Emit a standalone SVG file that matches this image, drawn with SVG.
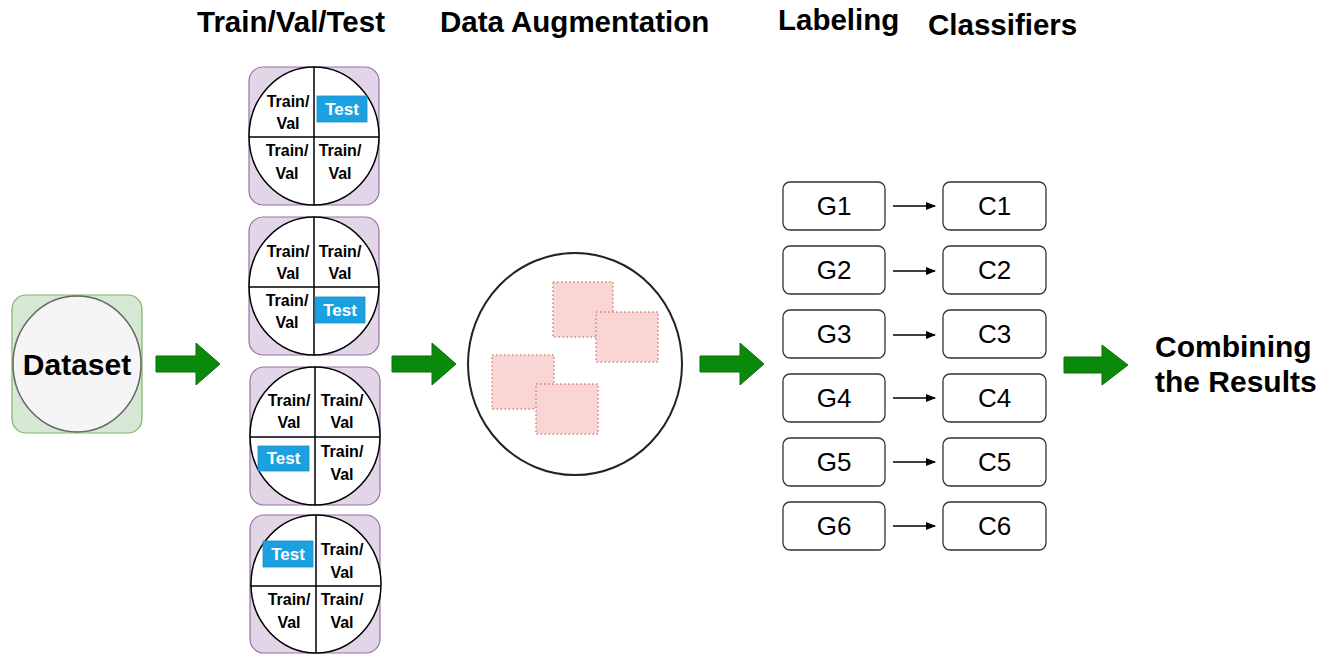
<svg xmlns="http://www.w3.org/2000/svg" width="1332" height="656" viewBox="0 0 1332 656">
<defs>
<style>
.hdr{font-family:"Liberation Sans",Arial,sans-serif;font-weight:bold;font-size:29.500px;fill:#000}
.big{font-family:"Liberation Sans",Arial,sans-serif;font-weight:bold;font-size:30px;fill:#000}
.q{font-family:"Liberation Sans",Arial,sans-serif;font-weight:bold;font-size:16px;fill:#000;text-anchor:middle}
.tst{font-family:"Liberation Sans",Arial,sans-serif;font-weight:bold;font-size:17px;fill:#fff;text-anchor:middle}
.lbl{font-family:"Liberation Sans",Arial,sans-serif;font-size:26px;fill:#000;text-anchor:middle}
.pbox{fill:#e1d5e7;stroke:#9673a6;stroke-width:1.2}
.qc{fill:#fff;stroke:#000;stroke-width:1.5}
.ql{stroke:#000;stroke-width:1.5}
.tb{fill:#1ba1e2;stroke:#1c8cc4;stroke-width:0.8}
.garr{fill:#0a8a0a;stroke:#0b6e0b;stroke-width:1}
.sq{fill:#f9d6d3;stroke:#d6827d;stroke-width:1.5;stroke-dasharray:1.5 2.5}
.rb{fill:#fff;stroke:#333;stroke-width:1.3}
.con{stroke:#000;stroke-width:1.3;fill:none}
</style>
<marker id="ah" viewBox="0 0 10 10" refX="9" refY="5" markerWidth="10" markerHeight="10" markerUnits="userSpaceOnUse" orient="auto">
<path d="M0,1 L10,5 L0,9 Z" fill="#000"/>
</marker>
</defs>
<rect width="1332" height="656" fill="#fff"/>

<g id="headers">
<text class="hdr" x="197" y="32">Train/Val/Test</text>
<text class="hdr" x="440" y="32">Data Augmentation</text>
<text class="hdr" x="778" y="30">Labeling</text>
<text class="hdr" x="928" y="35">Classifiers</text>
</g>

<g id="dataset">
<rect x="12" y="295" width="130" height="138" rx="14" fill="#d5e8d4" stroke="#82b366" stroke-width="1.2"/>
<ellipse cx="77" cy="364" rx="64" ry="68" fill="#f5f5f5" stroke="#666" stroke-width="1.5"/>
<text class="big" x="77" y="375" text-anchor="middle">Dataset</text>
</g>

<g id="split1">
<rect class="pbox" x="249" y="67" width="130" height="138" rx="14"/>
<ellipse class="qc" cx="314" cy="136" rx="65" ry="69"/>
<line class="ql" x1="249" y1="137" x2="379" y2="137"/>
<line class="ql" x1="314" y1="67" x2="314" y2="205"/>
<text class="q" x="288" y="107">Train/</text><text class="q" x="288" y="129">Val</text>
<rect class="tb" x="317" y="96" width="50" height="26"/><text class="tst" x="342" y="115">Test</text>
<text class="q" x="287" y="156">Train/</text><text class="q" x="287" y="179">Val</text>
<text class="q" x="340" y="156">Train/</text><text class="q" x="340" y="179">Val</text>
</g>

<g id="split2">
<rect class="pbox" x="249" y="217" width="130" height="138" rx="14"/>
<ellipse class="qc" cx="314" cy="286" rx="65" ry="69"/>
<line class="ql" x1="249" y1="287" x2="379" y2="287"/>
<line class="ql" x1="314" y1="217" x2="314" y2="355"/>
<text class="q" x="288" y="257">Train/</text><text class="q" x="288" y="279">Val</text>
<text class="q" x="340" y="257">Train/</text><text class="q" x="340" y="279">Val</text>
<text class="q" x="287" y="306">Train/</text><text class="q" x="287" y="328">Val</text>
<rect class="tb" x="315" y="297" width="50" height="26"/><text class="tst" x="340" y="316">Test</text>
</g>

<g id="split3">
<rect class="pbox" x="250" y="367" width="130" height="138" rx="14"/>
<ellipse class="qc" cx="315" cy="436" rx="65" ry="69"/>
<line class="ql" x1="250" y1="437" x2="380" y2="437"/>
<line class="ql" x1="315" y1="367" x2="315" y2="505"/>
<text class="q" x="289" y="406">Train/</text><text class="q" x="289" y="428">Val</text>
<text class="q" x="342" y="406">Train/</text><text class="q" x="342" y="428">Val</text>
<rect class="tb" x="258" y="446" width="51" height="25"/><text class="tst" x="283.500" y="464">Test</text>
<text class="q" x="342" y="457">Train/</text><text class="q" x="342" y="480">Val</text>
</g>

<g id="split4">
<rect class="pbox" x="250" y="515" width="130" height="138" rx="14"/>
<ellipse class="qc" cx="316" cy="584" rx="65" ry="69"/>
<line class="ql" x1="250" y1="586" x2="381" y2="586"/>
<line class="ql" x1="316" y1="515" x2="316" y2="653"/>
<rect class="tb" x="263" y="541" width="50" height="26"/><text class="tst" x="288" y="560">Test</text>
<text class="q" x="342" y="555">Train/</text><text class="q" x="342" y="578">Val</text>
<text class="q" x="289" y="605">Train/</text><text class="q" x="289" y="628">Val</text>
<text class="q" x="342" y="605">Train/</text><text class="q" x="342" y="628">Val</text>
</g>

<g id="augmentation">
<ellipse cx="575" cy="364" rx="107" ry="111" fill="#fff" stroke="#222" stroke-width="2"/>
<rect class="sq" x="553" y="282" width="60" height="55"/>
<rect class="sq" x="596" y="312" width="62" height="50"/>
<rect class="sq" x="492" y="355" width="62" height="54"/>
<rect class="sq" x="536" y="384" width="62" height="50"/>
</g>

<g id="G1"><rect class="rb" x="783" y="182" width="102" height="48" rx="7"/><text class="lbl" x="834" y="215">G1</text></g>
<g id="G2"><rect class="rb" x="783" y="246" width="102" height="48" rx="7"/><text class="lbl" x="834" y="279">G2</text></g>
<g id="G3"><rect class="rb" x="783" y="310" width="102" height="48" rx="7"/><text class="lbl" x="834" y="343">G3</text></g>
<g id="G4"><rect class="rb" x="783" y="374" width="102" height="48" rx="7"/><text class="lbl" x="834" y="407">G4</text></g>
<g id="G5"><rect class="rb" x="783" y="438" width="102" height="48" rx="7"/><text class="lbl" x="834" y="471">G5</text></g>
<g id="G6"><rect class="rb" x="783" y="502" width="102" height="48" rx="7"/><text class="lbl" x="834" y="535">G6</text></g>

<g id="C1"><rect class="rb" x="943" y="182" width="103" height="48" rx="7"/><text class="lbl" x="994.500" y="215">C1</text></g>
<g id="C2"><rect class="rb" x="943" y="246" width="103" height="48" rx="7"/><text class="lbl" x="994.500" y="279">C2</text></g>
<g id="C3"><rect class="rb" x="943" y="310" width="103" height="48" rx="7"/><text class="lbl" x="994.500" y="343">C3</text></g>
<g id="C4"><rect class="rb" x="943" y="374" width="103" height="48" rx="7"/><text class="lbl" x="994.500" y="407">C4</text></g>
<g id="C5"><rect class="rb" x="943" y="438" width="103" height="48" rx="7"/><text class="lbl" x="994.500" y="471">C5</text></g>
<g id="C6"><rect class="rb" x="943" y="502" width="103" height="48" rx="7"/><text class="lbl" x="994.500" y="535">C6</text></g>

<g id="result">
<text class="big" x="1155" y="357">Combining</text>
<text class="big" x="1155" y="392">the Results</text>
</g>

<g id="connectors">
<polygon class="garr" points="156,356 196,356 196,343 220,364 196,385 196,372 156,372"/>
<polygon class="garr" points="392,356 432,356 432,343 456,364 432,385 432,372 392,372"/>
<polygon class="garr" points="700,356 740,356 740,343 764,364 740,385 740,372 700,372"/>
<polygon class="garr" points="1064,357 1102,357 1102,345 1128,365 1102,385 1102,373 1064,373"/>
<line class="con" x1="893" y1="206" x2="935" y2="206" marker-end="url(#ah)"/>
<line class="con" x1="893" y1="271" x2="935" y2="271" marker-end="url(#ah)"/>
<line class="con" x1="893" y1="335" x2="935" y2="335" marker-end="url(#ah)"/>
<line class="con" x1="893" y1="398" x2="935" y2="398" marker-end="url(#ah)"/>
<line class="con" x1="893" y1="462" x2="935" y2="462" marker-end="url(#ah)"/>
<line class="con" x1="893" y1="526" x2="935" y2="526" marker-end="url(#ah)"/>
</g>
</svg>
